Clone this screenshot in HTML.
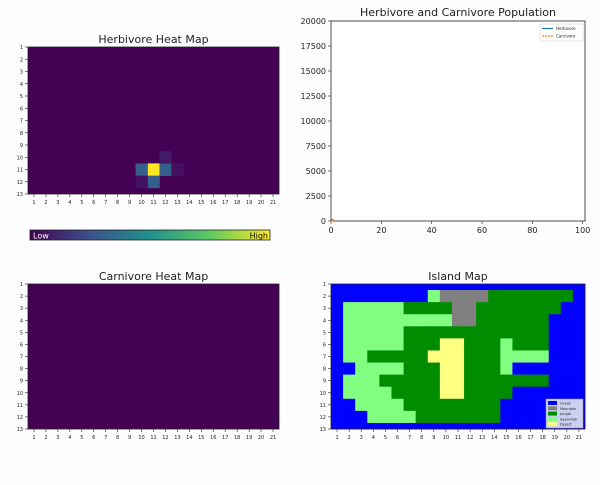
<!DOCTYPE html>
<html><head><meta charset="utf-8"><style>
body{margin:0;background:#fdfcfe;width:600px;height:480px;overflow:hidden;font-family:"Liberation Sans",sans-serif}
svg text{font-family:"DejaVu Sans","Liberation Sans",sans-serif}
</style></head><body>
<svg id="s" width="600" height="480">
<defs><linearGradient id="vir" x1="0" x2="1">
<stop offset="0" stop-color="#440154"/><stop offset="0.25" stop-color="#3b528b"/><stop offset="0.5" stop-color="#21918c"/><stop offset="0.75" stop-color="#5ec962"/><stop offset="1" stop-color="#fde725"/></linearGradient></defs>
</svg>
<script>
const herbHeat=[[11,11,1],[11,10,0.3],[11,12,0.3],[12,11,0.3],[10,12,0.08],[12,10,0.05],[11,13,0.05]];
const carnHeat=[];
const islandRows=[
"OOOOOOOOOOOOOOOOOOOOO",
"OOOOOOOOSMMMMJJJJJJJO",
"OSSSSSJJJJMMJJJJJJJOO",
"OSSSSSSSSSMMJJJJJJOOO",
"OSSSSSJJJJJJJJJJJJOOO",
"OSSSSSJJJDDJJJSJJJOOO",
"OSSJJJJJDDDJJJSSSSOOO",
"OOSSSSJJJDDJJJSOOOOOO",
"OSSSJJJJJDDJJJJJJJOOO",
"OSSSSJJJJDDJJJJOOOOOO",
"OOSSSSJJJJJJJJOOOOOOO",
"OOOSSSSJJJJJJJOOOOOOO",
"OOOOOOOOOOOOOOOOOOOOO"];
const popX=[0,1];
const herbPop=[100,110];
const carnPop=[20,22];
const popYTicks=[0,2500,5000,7500,10000,12500,15000,17500,20000];
const popXTicks=[0,20,40,60,80,100];
const legendLabels=["Ocean","Mountain","Jungle","Savannah","Desert"];

const NS="http://www.w3.org/2000/svg",S=document.getElementById('s');
function mk(t,a,p){const e=document.createElementNS(NS,t);for(const k in a)e.setAttribute(k,a[k]);(p||S).appendChild(e);return e;}
function txt(x,y,s,size,anchor,fill){const e=mk('text',{x:x,y:y,'font-size':size,'text-anchor':anchor||'middle',fill:fill||'#222'});e.textContent=s;return e;}
const vir=v=>{const st=[[68,1,84],[59,82,139],[33,145,140],[94,201,98],[253,231,37]];const f=v*4,i=Math.min(3,Math.floor(f)),t=f-i;const c=st[i].map((a,j)=>Math.round(a+(st[i+1][j]-a)*t));return `rgb(${c})`;};

function gridAxes(L,T,R,B,title,name){
  const g=mk('g',{});  
  const sx=c=>L+(c-0.5)*(R-L)/21, sy=r=>T+(r-1)*(B-T)/12;
  return {g,sx,sy,L,T,R,B,finish(){
    mk('rect',{x:L,y:T,width:R-L,height:B-T,fill:'none',stroke:'#222','stroke-width':0.8},g);
    for(let c=1;c<=21;c++){mk('line',{x1:sx(c),x2:sx(c),y1:B,y2:B+3,stroke:'#222','stroke-width':0.6},g);const t=txt(sx(c),B+10,c,5);g.appendChild(t);}
    for(let r=1;r<=13;r++){mk('line',{x1:L-3,x2:L,y1:sy(r),y2:sy(r),stroke:'#222','stroke-width':0.6},g);const t=txt(L-5,sy(r)+2,r,5,'end');g.appendChild(t);}
    const tt=txt((L+R)/2,T-4,title,11);g.appendChild(tt);
  }};
}
function cell(ax,r,c,fill,name){
  const y0=Math.max(ax.T,ax.sy(r-0.5)),y1=Math.min(ax.B,ax.sy(r+0.5));
  const e=mk('rect',{x:ax.sx(c-0.5),y:y0,width:ax.sx(c+0.5)-ax.sx(c-0.5)+0.3,height:y1-y0+0.3,fill:fill},ax.g);
  
  
}
// herbivore
const h=gridAxes(28,47,279,194,'Herbivore Heat Map','herbivore-heat-map');
mk('rect',{x:28,y:47,width:251,height:147,fill:'#440154'},h.g);
herbHeat.forEach(([r,c,v])=>cell(h,r,c,vir(v),'herbivore-cell'));
h.finish();
// colorbar
const cb=mk('g',{});
mk('rect',{x:30,y:230,width:240,height:10,fill:'url(#vir)',stroke:'#222','stroke-width':0.8},cb);
cb.appendChild(txt(33,238.5,'Low',8,'start','#fff'));
cb.appendChild(txt(268,238.5,'High',8,'end','#111'));
// carnivore
const c2=gridAxes(28,284,279,429,'Carnivore Heat Map','carnivore-heat-map');
mk('rect',{x:28,y:284,width:251,height:145,fill:'#440154'},c2.g);
carnHeat.forEach(([r,c,v])=>cell(c2,r,c,vir(v),'carnivore-cell'));
c2.finish();
// island
const col={O:'#0000ff',M:'#808080',J:'#008c00',S:'#80ff80',D:'#ffff80'};
const im=gridAxes(331,284,585,429,'Island Map','island-map');
islandRows.forEach((row,ri)=>[...row].forEach((ch,ci)=>cell(im,ri+1,ci+1,col[ch],'island-cell')));
im.finish();
const lg=mk('g',{});
mk('rect',{x:546,y:399,width:37,height:29,fill:'#ccd0f0',stroke:'#999','stroke-width':0.5},lg);
legendLabels.forEach((l,i)=>{mk('rect',{x:548,y:401+i*5.3,width:9,height:4,fill:col['OMJSD'[i]]},lg);lg.appendChild(txt(560,404.5+i*5.3,l,3.5,'start'));});
// population
const pg=mk('g',{});
const PL=331,PR=585,PT=21,PB=221,px=v=>PL+v*(582.7-331)/100,py=v=>PB-v*(PB-PT)/20000;
mk('rect',{x:PL,y:PT,width:PR-PL,height:PB-PT,fill:'#fff',stroke:'#222','stroke-width':0.8},pg);
popYTicks.forEach(v=>{mk('line',{x1:PL-3,x2:PL,y1:py(v),y2:py(v),stroke:'#222','stroke-width':0.6},pg);pg.appendChild(txt(PL-5,py(v)+3,v,8,'end'));});
popXTicks.forEach(v=>{mk('line',{x1:px(v),x2:px(v),y1:PB,y2:PB+3,stroke:'#222','stroke-width':0.6},pg);pg.appendChild(txt(px(v),PB+12,v,8));});
const hl=mk('polyline',{points:popX.map((x,i)=>px(x)+','+py(herbPop[i])).join(' '),fill:'none',stroke:'#1f77b4','stroke-width':1.5},pg);

const cl=mk('polyline',{points:popX.map((x,i)=>px(x)+','+py(carnPop[i])).join(' '),fill:'none',stroke:'#ff7f0e','stroke-width':1.5,'stroke-dasharray':'2,1'},pg);

pg.appendChild(txt((PL+PR)/2,PT-5,'Herbivore and Carnivore Population',11));
const pl=mk('g',{},pg);
mk('rect',{x:540,y:24,width:43,height:17,fill:'#fff',stroke:'#ccc','stroke-width':0.5},pl);
mk('line',{x1:542,x2:553,y1:28.5,y2:28.5,stroke:'#1f77b4','stroke-width':1.2},pl);
mk('line',{x1:542,x2:553,y1:36,y2:36,stroke:'#ff7f0e','stroke-width':1.2,'stroke-dasharray':'2,1'},pl);
pl.appendChild(txt(556,30,'Herbivore',4,'start'));pl.appendChild(txt(556,37.5,'Carnivore',4,'start'));
</script></body></html>
